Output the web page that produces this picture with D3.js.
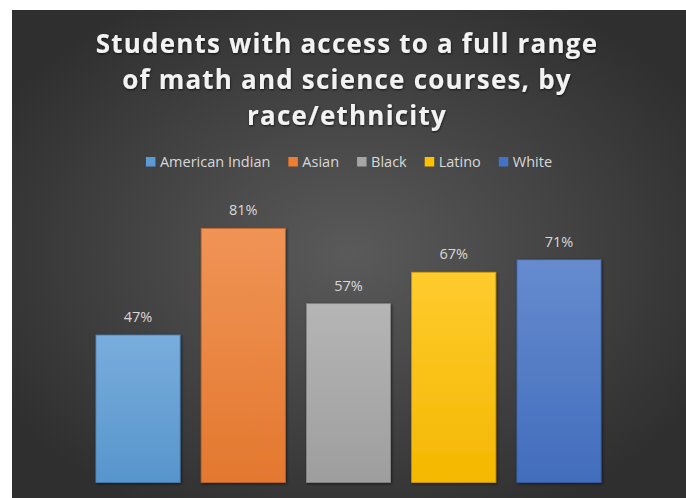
<!DOCTYPE html>
<html>
<head>
<meta charset="utf-8">
<script src="https://cdn.jsdelivr.net/npm/d3@7/dist/d3.min.js"></script>
<style>
  html, body { margin: 0; padding: 0; background: #ffffff; }
  svg { display: block; }
</style>
</head>
<body>
<svg id="chart" width="686" height="498"></svg>
<script>
// Share of students with access to a full range of math and science courses
const categories = ["American Indian", "Asian", "Black", "Latino", "White"];
const values = [0.47, 0.81, 0.57, 0.67, 0.71];
const titleLines = ["Students with access to a full range", "of math and science courses, by", "race/ethnicity"];
const barColors = ["#5b9bd5", "#ed7d31", "#a5a5a5", "#ffc000", "#4472c4"];

const W = 686, H = 498;
const svg = d3.select("#chart");
const defs = svg.append("defs");

// Dark radial backdrop
const bg = defs.append("radialGradient").attr("id", "bg")
  .attr("cx", "50%").attr("cy", "50%").attr("r", "60%");
bg.append("stop").attr("offset", "0%").attr("stop-color", "#5a5a5a");
bg.append("stop").attr("offset", "100%").attr("stop-color", "#2f2f2f");

const panel = { x: 12, y: 10, w: W - 12, h: H - 10 };
svg.append("rect").attr("x", panel.x).attr("y", panel.y)
  .attr("width", panel.w).attr("height", panel.h).attr("fill", "url(#bg)");

// Soft drop shadows for bars and title
const sh = defs.append("filter").attr("id", "shadow")
  .attr("x", "-20%").attr("y", "-20%").attr("width", "140%").attr("height", "140%");
sh.append("feDropShadow").attr("dx", 1).attr("dy", 1).attr("stdDeviation", 1.5)
  .attr("flood-color", "#000").attr("flood-opacity", 0.55);
const tsh = defs.append("filter").attr("id", "tshadow")
  .attr("x", "-10%").attr("y", "-30%").attr("width", "120%").attr("height", "160%");
tsh.append("feDropShadow").attr("dx", 0.5).attr("dy", 1).attr("stdDeviation", 1.2)
  .attr("flood-color", "#000").attr("flood-opacity", 0.7);

// Vertical gradients per bar: lighter at the top
barColors.forEach((c, i) => {
  const g = defs.append("linearGradient").attr("id", "bar" + i)
    .attr("x1", 0).attr("y1", 0).attr("x2", 0).attr("y2", 1);
  g.append("stop").attr("offset", "0%").attr("stop-color", d3.interpolateRgb(c, "#ffffff")(0.18));
  g.append("stop").attr("offset", "100%").attr("stop-color", d3.color(c).darker(0.12));
});

// Title
const title = svg.append("g").attr("filter", "url(#tshadow)");
title.selectAll("text").data(titleLines).join("text")
  .attr("x", 347)
  .attr("y", (d, i) => 53 + i * 36)
  .attr("text-anchor", "middle")
  .attr("font-family", "'Open Sans', sans-serif")
  .attr("font-weight", 700)
  .attr("font-size", 26)
  .attr("letter-spacing", 1.2)
  .attr("fill", "#f2f2f2")
  .text(d => d);

// Scales
const x = d3.scaleBand().domain(categories).range([85.4, 611.6]).paddingInner(0.2).paddingOuter(0.1);
const y = d3.scaleLinear().domain([0, 1]).range([482.5, 168.7]);

// Bars
svg.append("g").selectAll("rect").data(categories).join("rect")
  .attr("x", d => x(d))
  .attr("y", (d, i) => y(values[i]))
  .attr("width", x.bandwidth())
  .attr("height", (d, i) => y(0) - y(values[i]))
  .attr("fill", (d, i) => `url(#bar${i})`)
  .attr("stroke", (d, i) => d3.color(barColors[i]).darker(0.6))
  .attr("stroke-width", 0.8)
  .attr("filter", "url(#shadow)");

// Value labels
svg.append("g").selectAll("text").data(categories).join("text")
  .attr("x", d => x(d) + x.bandwidth() / 2)
  .attr("y", (d, i) => y(values[i]) - 13)
  .attr("text-anchor", "middle")
  .attr("font-family", "'Open Sans', sans-serif")
  .attr("font-size", 14.5)
  .attr("fill", "#d9d9d9")
  .text((d, i) => d3.format(".0%")(values[i]));

// Legend
const legend = svg.append("g");
const items = legend.selectAll("g").data(categories).join("g");
items.append("rect").attr("width", 9.5).attr("height", 9.5).attr("y", -10)
  .attr("fill", (d, i) => barColors[i]);
items.append("text").attr("x", 14).attr("y", 0)
  .attr("font-family", "'Open Sans', sans-serif")
  .attr("font-size", 14.5)
  .attr("fill", "#d9d9d9")
  .text(d => d);
let cx = 0;
const offsets = [];
const gap = 18;
items.each(function () {
  offsets.push(cx);
  const tw = d3.select(this).select("text").node().getComputedTextLength();
  cx += 14 + tw + gap;
});
const total = cx - gap;
const startX = 349 - total / 2;
items.attr("transform", (d, i) => `translate(${startX + offsets[i]},167)`);
</script>
</body>
</html>
